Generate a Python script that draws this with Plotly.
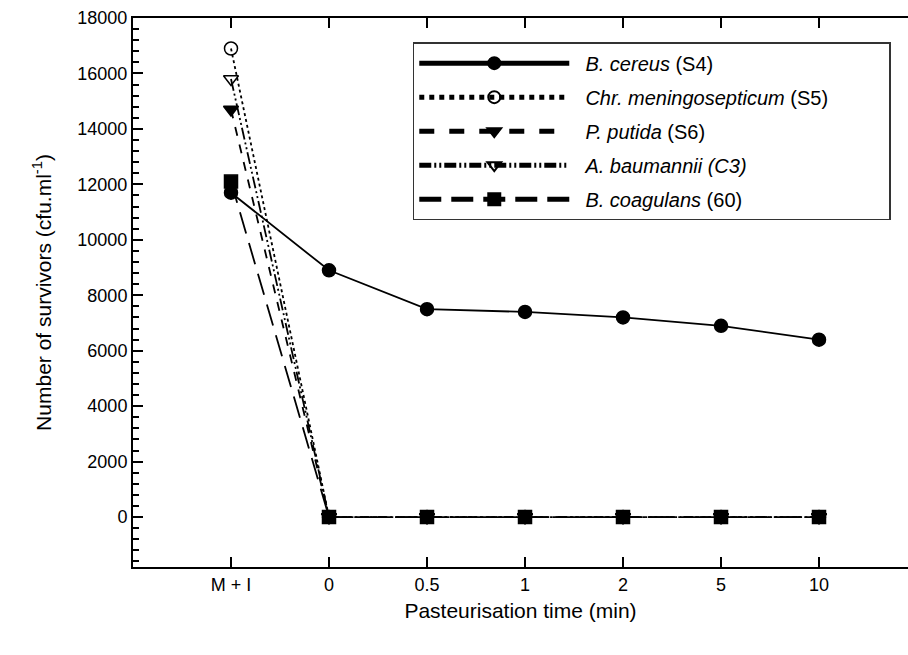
import plotly.graph_objects as go

categories = ["M + I", "0", "0.5", "1", "2", "5", "10"]
b_cereus = [11700, 8900, 7500, 7400, 7200, 6900, 6400]
chr_mening = [16900, 0, 0, 0, 0, 0, 0]
p_putida = [14700, 0, 0, 0, 0, 0, 0]
a_baumannii = [15800, 0, 0, 0, 0, 0, 0]
b_coagulans = [12100, 0, 0, 0, 0, 0, 0]

xidx = list(range(len(categories)))

series = [
    ("<i>B. cereus</i> (S4)", b_cereus, "solid", "circle"),
    ("<i>Chr. meningosepticum</i> (S5)" + "\u00a0" * 10, chr_mening, "dot", "circle-open"),
    ("<i>P. putida</i> (S6)", p_putida, "dash", "triangle-down"),
    ("<i>A. baumannii (C3)</i>", a_baumannii, "12px,3px,2px,3px,2px,3px", "triangle-down-open"),
    ("<i>B. coagulans</i> (60)", b_coagulans, "22px,10px", "square"),
]

fig = go.Figure()
for i, (name, vals, dash, sym) in enumerate(series):
    fig.add_trace(go.Scatter(
        x=xidx, y=vals, name="\u00a0\u00a0" + name, mode="lines+markers", legendgroup=f"g{i}",
        line=dict(color="black", width=1.8, dash=dash),
        marker=dict(symbol=sym, size=13, color="black",
                    line=dict(color="black", width=1.5)),
    ))

font = "Liberation Sans, Arial, sans-serif"
fig.update_layout(
    width=908, height=655,
    margin=dict(l=133, r=0, t=18, b=88),
    paper_bgcolor="white", plot_bgcolor="white",
    font=dict(family=font, color="black", size=18),
    showlegend=True,
    legend=dict(
        x=0.361, y=0.956, xanchor="left", yanchor="top",
        bordercolor="#333", borderwidth=1.5, bgcolor="white",
        font=dict(size=20, family=font), itemwidth=150,
        tracegroupgap=5, itemsizing="constant",
    ),
    xaxis=dict(
        range=[-1, 6.908], tickmode="array", tickvals=xidx, ticktext=categories,
        ticks="inside", ticklen=10, tickwidth=1.5, tickcolor="black",
        showline=True, linecolor="black", linewidth=2, mirror="ticks",
        showgrid=False, zeroline=False, tickfont=dict(size=18),
        title=dict(text="Pasteurisation time (min)", font=dict(size=21), standoff=10),
    ),
    yaxis=dict(
        range=[-1800, 18000], tickmode="linear", tick0=0, dtick=2000, tickformat="d",
        ticks="inside", ticklen=10, tickwidth=1.5, tickcolor="black",
        showline=True, linecolor="black", linewidth=2, mirror=False,
        showgrid=False, zeroline=False, tickfont=dict(size=18),
        minor=dict(ticks="inside", ticklen=6, tickwidth=1.5, tickcolor="black", dtick=400, tick0=0),
        title=dict(text="Number of survivors (cfu.ml<sup>-1</sup>)", font=dict(size=21), standoff=20),
    ),
)

fig.write_html("out.html")
